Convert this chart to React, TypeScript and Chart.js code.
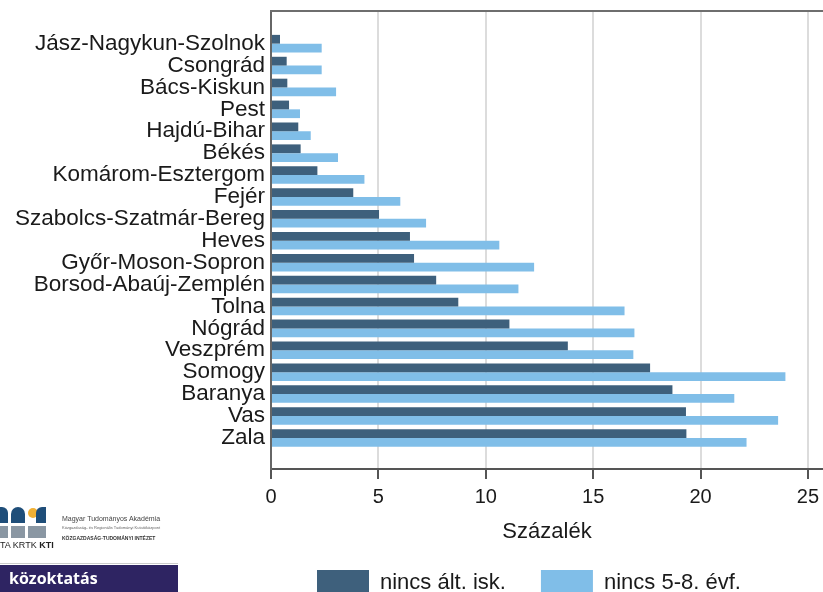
import React, { useEffect, useRef } from "react";
import { Chart, registerables } from "chart.js";

Chart.register(...registerables);

const counties = [
  "Jász-Nagykun-Szolnok",
  "Csongrád",
  "Bács-Kiskun",
  "Pest",
  "Hajdú-Bihar",
  "Békés",
  "Komárom-Esztergom",
  "Fejér",
  "Szabolcs-Szatmár-Bereg",
  "Heves",
  "Győr-Moson-Sopron",
  "Borsod-Abaúj-Zemplén",
  "Tolna",
  "Nógrád",
  "Veszprém",
  "Somogy",
  "Baranya",
  "Vas",
  "Zala",
];

const nincsAltIsk = [0.42, 0.73, 0.76, 0.84, 1.27, 1.38, 2.16, 3.83, 5.03, 6.47, 6.66, 7.69, 8.72, 11.1, 13.82, 17.65, 18.69, 19.32, 19.34];
const nincs58Evf = [2.36, 2.36, 3.03, 1.35, 1.85, 3.12, 4.35, 6.02, 7.22, 10.63, 12.25, 11.52, 16.46, 16.92, 16.87, 23.95, 21.57, 23.61, 22.14];

const xTicks = [0, 5, 10, 15, 20, 25];
const seriesLabels = ["nincs ált. isk.", "nincs 5-8. évf."];
const xTitle = "Százalék";

const FONT = "'Liberation Sans', Arial, sans-serif";

const framePlugin = {
  id: "frameAndLegendShift",
  afterLayout(chart: any) {
    if (chart.legend) {
      chart.legend.left += 11;
      chart.legend.right += 11;
    }
  },
  afterDraw(chart: any) {
    const { ctx, chartArea } = chart;
    ctx.save();
    ctx.strokeStyle = "#6e6e6e";
    ctx.lineWidth = 2;
    ctx.beginPath();
    ctx.moveTo(chartArea.left - 1, chartArea.top);
    ctx.lineTo(chart.width, chartArea.top);
    ctx.stroke();
    ctx.restore();
  },
};

function ChartView() {
  const ref = useRef<HTMLCanvasElement | null>(null);
  useEffect(() => {
    if (!ref.current) return;
    const chart = new Chart(ref.current, {
      type: "bar",
      data: {
        datasets: [
          {
            label: seriesLabels[0],
            data: nincsAltIsk.map((v, i) => ({ x: v, y: i })),
            backgroundColor: "#3e607c",
            borderWidth: 0,
            categoryPercentage: 0.8,
            barPercentage: 1.0,
          },
          {
            label: seriesLabels[1],
            data: nincs58Evf.map((v, i) => ({ x: v, y: i })),
            backgroundColor: "#80bee8",
            borderWidth: 0,
            categoryPercentage: 0.8,
            barPercentage: 1.0,
          },
        ],
      },
      plugins: [framePlugin],
      options: {
        animation: false,
        responsive: true,
        maintainAspectRatio: false,
        indexAxis: "y",
        layout: { padding: { top: 11, left: 0, right: 0, bottom: 0 } },
        scales: {
          x: {
            type: "linear",
            min: 0,
            max: 25.7,
            afterBuildTicks: (s: any) => {
              s.ticks = xTicks.map((v) => ({ value: v }));
            },
            afterFit: (s: any) => {
              s.paddingLeft = 0;
              s.paddingRight = 0;
            },
            grid: {
              color: "#dcdcdc",
              lineWidth: 2,
              tickLength: 10,
              tickColor: "#555",
              tickWidth: 2,
            },
            border: { color: "#555", width: 2 },
            ticks: {
              color: "#1a1a1a",
              font: { family: FONT, size: 20 },
              padding: 6,
              maxRotation: 0,
            },
            title: {
              display: true,
              text: xTitle,
              color: "#1a1a1a",
              font: { family: FONT, size: 22, lineHeight: 1 },
              padding: { top: 6, bottom: -8 },
            },
          },
          y: {
            type: "linear",
            reverse: true,
            offset: false,
            min: -1.49,
            max: 19.42,
            afterBuildTicks: (s: any) => {
              s.ticks = counties.map((_, i) => ({ value: i }));
            },
            afterFit: (s: any) => {
              s.width = 271;
              s.paddingTop = 0;
              s.paddingBottom = 0;
            },
            grid: { display: false, drawTicks: false },
            border: { color: "#666", width: 2 },
            ticks: {
              color: "#1a1a1a",
              font: { family: FONT, size: 22.5 },
              padding: 6,
              autoSkip: false,
              callback: (v: any) => counties[v as number] ?? "",
            },
          },
        },
        plugins: {
          legend: {
            position: "bottom",
            fullSize: false,
            align: "start",
            labels: {
              boxWidth: 52,
              boxHeight: 26,
              padding: 35,
              color: "#1a1a1a",
              font: { family: FONT, size: 22 },
            },
          },
          tooltip: { enabled: false },
        },
      },
    } as any);
    return () => chart.destroy();
  }, []);
  return <canvas ref={ref} />;
}

export default function App() {
  return (
    <div
      style={{
        position: "fixed",
        left: 0,
        top: 0,
        width: 823,
        height: 592,
        overflow: "hidden",
        background: "#fff",
        fontFamily: FONT,
      }}
    >
      <div style={{ position: "absolute", left: 0, top: 0, width: 823, height: 606 }}>
        <ChartView />
      </div>
      {/* logo */}
      <div style={{ position: "absolute", left: 0, top: 507, width: 46, height: 32 }}>
        <div style={{ position: "absolute", left: 0, top: 0, width: 8, height: 16, background: "#1f4e79", borderRadius: "0 6px 0 0" }} />
        <div style={{ position: "absolute", left: 11, top: 0, width: 14, height: 16, background: "#1f4e79", borderRadius: "7px 7px 0 0" }} />
        <div style={{ position: "absolute", left: 28, top: 1, width: 10, height: 10, background: "#f2b134", borderRadius: "50%" }} />
        <div style={{ position: "absolute", left: 36, top: 0, width: 10, height: 16, background: "#1f4e79", borderRadius: "6px 0 0 0" }} />
        <div style={{ position: "absolute", left: 0, top: 19, width: 8, height: 12, background: "#8a97a3" }} />
        <div style={{ position: "absolute", left: 11, top: 19, width: 14, height: 12, background: "#8a97a3" }} />
        <div style={{ position: "absolute", left: 28, top: 19, width: 18, height: 12, background: "#8a97a3" }} />
      </div>
      <div style={{ position: "absolute", left: 0, top: 540, fontSize: 9, color: "#222", whiteSpace: "nowrap" }}>
        TA KRTK <b>KTI</b>
      </div>
      <div style={{ position: "absolute", left: 62, top: 514, fontSize: 7, color: "#444", whiteSpace: "nowrap", lineHeight: "9px" }}>
        Magyar Tudományos Akadémia
        <div style={{ fontSize: 4, color: "#666" }}>Közgazdaság- és Regionális Tudományi Kutatóközpont</div>
        <div style={{ fontSize: 5, fontWeight: 700, color: "#333", marginTop: 2 }}>KÖZGAZDASÁG-TUDOMÁNYI INTÉZET</div>
      </div>
      <div style={{ position: "absolute", left: 0, top: 563, width: 178, height: 1, background: "#ccc" }} />
      <div
        style={{
          position: "absolute",
          left: 0,
          top: 565,
          width: 178,
          height: 27,
          background: "#2e2462",
          color: "#fff",
          fontWeight: 700,
          fontSize: 16,
          lineHeight: "27px",
          paddingLeft: 9,
          boxSizing: "border-box",
          fontFamily: "'Open Sans', 'Noto Sans', sans-serif",
        }}
      >
        közoktatás
      </div>
    </div>
  );
}
